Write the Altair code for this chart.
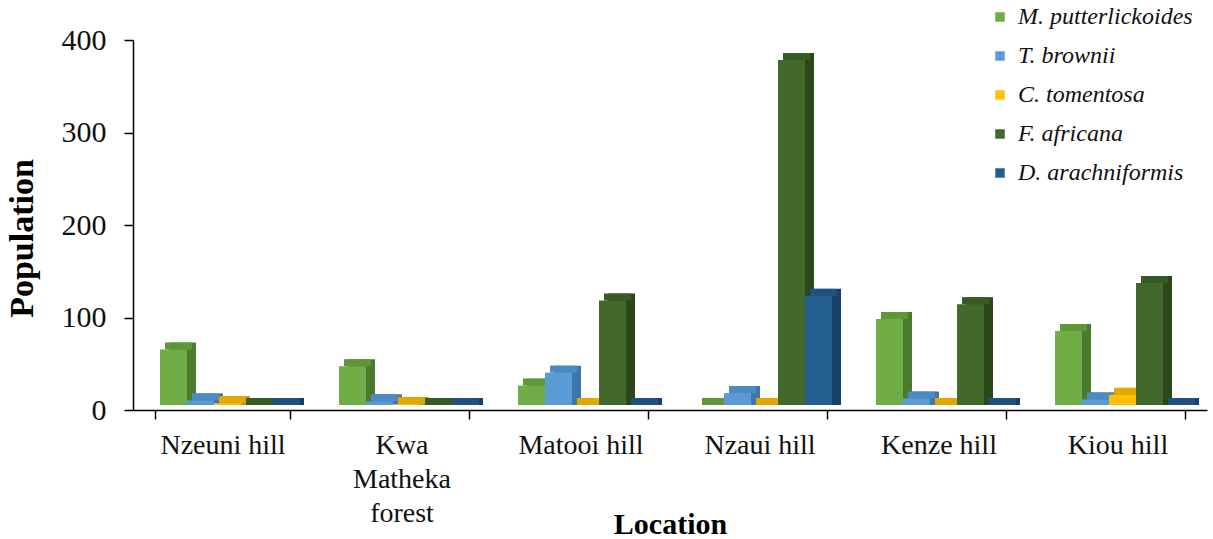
import altair as alt
import pandas as pd

locations = ["Nzeuni hill", "Kwa|Matheka|forest", "Matooi hill", "Nzaui hill", "Kenze hill", "Kiou hill"]
species = ["M. putterlickoides", "T. brownii", "C. tomentosa", "F. africana", "D. arachniformis"]

m_putterlickoides = [60, 42, 21, 0, 93, 80]
t_brownii = [5, 4, 35, 13, 7, 6]
c_tomentosa = [2, 1, 0, 0, 0, 11]
f_africana = [0, 0, 113, 373, 109, 132]
d_arachniformis = [0, 0, 0, 118, 0, 0]

front_colors = ["#70AD47", "#5B9BD5", "#FFC000", "#43682B", "#255E91"]
side_colors = ["#4A7A2C", "#3E76AA", "#C99600", "#2B4619", "#17406A"]
top_colors = ["#5F963A", "#4D89C2", "#E0A800", "#385A23", "#1F5280"]

series = [m_putterlickoides, t_brownii, c_tomentosa, f_africana, d_arachniformis]
rows = []
for sp, vals in zip(species, series):
    for loc, v in zip(locations, vals):
        rows.append({"Location": loc, "Species": sp, "Population": v})
df = pd.DataFrame(rows)

SERIF = "Liberation Serif"

x_enc = alt.X(
    "Location:N",
    sort=locations,
    scale=alt.Scale(paddingInner=0.246, paddingOuter=0.123),
    axis=alt.Axis(
        title="Location",
        labelAngle=0,
        labelExpr="split(datum.label, '|')",
        labelFont=SERIF,
        labelFontSize=28,
        labelColor="#111111",
        labelLineHeight=34,
        labelPadding=12,
        labelBaseline="top",
        tickBand="extent",
        tickSize=9,
        tickColor="#000000",
        tickWidth=1.5,
        domainColor="#000000",
        domainWidth=1.5,
        titleFont=SERIF,
        titleFontSize=30,
        titleFontWeight="bold",
        titleColor="#000000",
        titleBaseline="alphabetic",
        titleY=123,
    ),
)


def xo(lo):
    return alt.XOffset(
        "Species:N", sort=species,
        scale=alt.Scale(domain=species, range=[lo, lo + 135], paddingInner=0, paddingOuter=0),
    )


y_enc = alt.Y(
    "Population:Q",
    scale=alt.Scale(domain=[0, 400], nice=False),
    axis=alt.Axis(
        title="Population",
        values=[0, 100, 200, 300, 400],
        grid=False,
        labelFont=SERIF,
        labelFontSize=30,
        labelColor="#111111",
        labelPadding=18,
        tickSize=9,
        tickColor="#000000",
        tickWidth=1.5,
        domainColor="#000000",
        domainWidth=1.5,
        titleFont=SERIF,
        titleFontSize=34,
        titleFontWeight="bold",
        titleColor="#000000",
        titleX=-111,
        titleY=198,
        titleBaseline="middle",
    ),
)

base = alt.Chart(df)

shadow = base.mark_bar(yOffset=-12, y2Offset=-5).encode(
    x=x_enc,
    xOffset=xo(14),
    y=y_enc,
    y2=alt.Y2(datum=0),
    color=alt.Color("Species:N", sort=species,
                    scale=alt.Scale(domain=species, range=side_colors), legend=None),
)

top = base.mark_bar(yOffset=-12, y2Offset=-5).encode(
    x=x_enc,
    xOffset=xo(10),
    y=y_enc,
    y2=alt.Y2("Population:Q"),
    color=alt.Color("Species:N", sort=species,
                    scale=alt.Scale(domain=species, range=top_colors), legend=None),
)

front = base.mark_bar(yOffset=-5, y2Offset=-5).encode(
    x=x_enc,
    xOffset=xo(5),
    y=y_enc,
    y2=alt.Y2(datum=0),
    color=alt.Color(
        "Species:N",
        sort=species,
        scale=alt.Scale(domain=species, range=front_colors),
        legend=alt.Legend(
            title=None,
            orient="none",
            legendX=855,
            legendY=-35,
            symbolType="square",
            symbolSize=90,
            symbolStrokeWidth=0,
            labelFont=SERIF,
            labelFontStyle="italic",
            labelFontSize=24,
            labelColor="#111111",
            labelOffset=6,
            labelLimit=0,
            rowPadding=15,
        ),
    ),
)

chart = (
    alt.layer(shadow, top, front)
    .resolve_scale(color="independent", xOffset="independent")
    .properties(
        width=1074,
        height=370,
        autosize=alt.AutoSizeParams(type="none"),
        padding={"left": 133, "top": 40, "right": 6, "bottom": 129},
        background="#ffffff",
    )
    .configure_view(stroke=None)
)

chart.save("out.html", embed_options={"renderer": "svg", "actions": False})
